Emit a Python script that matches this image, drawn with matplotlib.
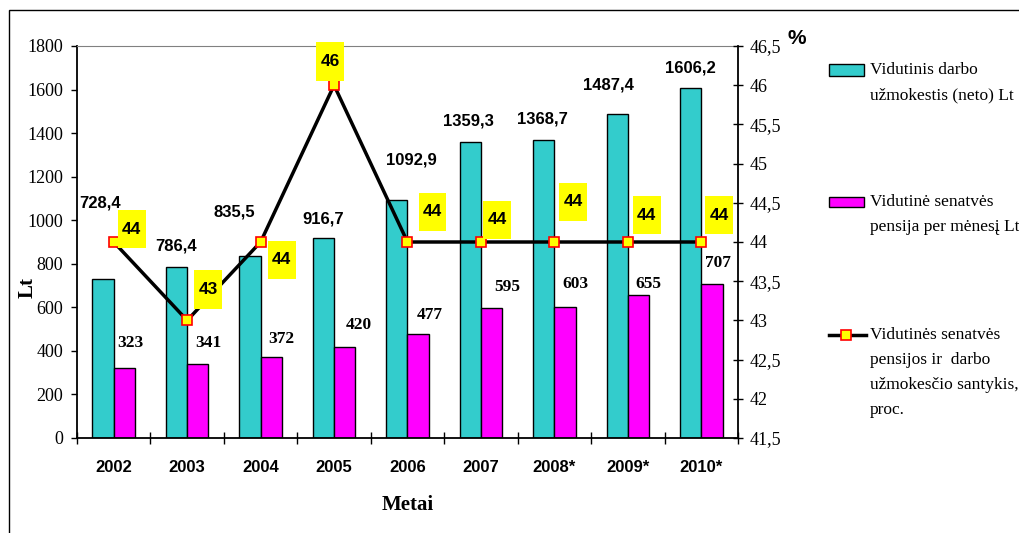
import numpy as np
import matplotlib.pyplot as plt
from matplotlib.patches import Rectangle
from matplotlib.lines import Line2D
from matplotlib.path import Path
from matplotlib.ticker import FuncFormatter

years = ["2002", "2003", "2004", "2005", "2006", "2007", "2008*", "2009*", "2010*"]
wage = [728.4, 786.4, 835.5, 916.7, 1092.9, 1359.3, 1368.7, 1487.4, 1606.2]
pension = [323, 341, 372, 420, 477, 595, 603, 655, 707]
ratio = [44, 43, 44, 46, 44, 44, 44, 44, 44]

# label offsets in pixels (dx, dy downward) from the point each label belongs to
wage_off = [(-3, -76), (0, -21), (-16, -44), (0, -19), (15, -40), (-2, -21), (-1, -21), (-9, -29), (0, -20)]
pension_off = [(6, -25), (11, -21), (10, -18), (14, -22), (12, -19), (16, -21), (10, -23), (10, -11), (6, -21)]
ratio_off = [(18, -13), (21, -31), (21, 18), (-4, -24), (25, -30), (16, -22), (19, -40), (19, -27), (18, -27)]

SERIF = "Liberation Serif"
SANS = "Liberation Sans"
CYAN = "#33CCCC"
MAGENTA = "#FF00FF"


def tall_box(x0, y0, width, height, mutation_size):
    px = 0.25 * mutation_size
    py = 0.68 * mutation_size
    x1, y1 = x0 + width + px, y0 + height + py
    x0, y0 = x0 - px, y0 - py
    return Path([(x0, y0), (x1, y0), (x1, y1), (x0, y1), (x0, y0)], closed=True)


fig = plt.figure(figsize=(10.2, 5.33), dpi=100)
ax = fig.add_axes([77 / 1020, 95 / 533, 661 / 1020, 392 / 533])

x = np.arange(len(years))
w = 0.29
ax.bar(x - w / 2, wage, w, color=CYAN, edgecolor="black", linewidth=1)
ax.bar(x + w / 2, pension, w, color=MAGENTA, edgecolor="black", linewidth=1)

ax.set_xlim(-0.5, len(years) - 0.5)
ax.set_ylim(0, 1800)
ax.set_yticks(np.arange(0, 1801, 200))
ax.set_xticks(x)
ax.set_xticklabels(years, fontfamily=SANS, fontweight="bold", fontsize=12)
ax.set_xticks(np.arange(-0.5, len(years), 1), minor=True)
ax.tick_params(axis="x", which="major", length=0, pad=16)
ax.tick_params(axis="x", which="minor", direction="inout", length=8, width=1)
ax.tick_params(axis="y", direction="out", length=4, width=1, pad=6, labelsize=13)
for lb in ax.get_yticklabels():
    lb.set_fontfamily(SERIF)

ax.spines["right"].set_visible(False)
ax.spines["top"].set_color("#808080")
ax.spines["top"].set_linewidth(0.8)
ax.spines["left"].set_linewidth(1.3)
ax.spines["bottom"].set_linewidth(1.3)

ax.set_ylabel("Lt", fontfamily=SERIF, fontweight="bold", fontsize=15, ha="center", va="center")
ax.yaxis.set_label_coords(-0.074, 0.385)
ax.set_xlabel("Metai", fontfamily=SERIF, fontweight="bold", fontsize=15, ha="center", va="center")
ax.xaxis.set_label_coords(0.5, -0.171)

for i, v in enumerate(wage):
    dx, dy = wage_off[i]
    ax.annotate(f"{v:.1f}".replace(".", ","), xy=(i - w / 2, v), xytext=(dx, -dy),
                textcoords="offset pixels", ha="center", va="center",
                fontfamily=SANS, fontweight="bold", fontsize=12)
for i, v in enumerate(pension):
    dx, dy = pension_off[i]
    ax.annotate(str(v), xy=(i + w / 2, v), xytext=(dx, -dy),
                textcoords="offset pixels", ha="center", va="center",
                fontfamily=SERIF, fontweight="bold", fontsize=12.5)

# ratio line on the secondary axis
ax2 = ax.twinx()
ax2.plot(x, ratio, color="black", linewidth=2.5, marker="s", markersize=6.5,
         markerfacecolor="#FFFF00", markeredgecolor="red", markeredgewidth=1.2)
ax2.set_ylim(41.5, 46.5)
ax2.set_yticks(np.arange(41.5, 46.6, 0.5))
ax2.yaxis.set_major_formatter(FuncFormatter(lambda v, p: ("%g" % v).replace(".", ",")))
ax2.tick_params(axis="y", direction="inout", length=7, width=1, pad=5, labelsize=13)
for lb in ax2.get_yticklabels():
    lb.set_fontfamily(SERIF)
for s in ["left", "top", "bottom"]:
    ax2.spines[s].set_visible(False)
ax2.spines["right"].set_linewidth(1.3)

for i, v in enumerate(ratio):
    dx, dy = ratio_off[i]
    ax2.annotate(str(v), xy=(i, v), xytext=(dx, -dy),
                 textcoords="offset pixels", ha="center", va="center",
                 fontfamily=SANS, fontweight="bold", fontsize=12.5,
                 bbox=dict(boxstyle=tall_box, facecolor="#FFFF00", edgecolor="none"))

fig.text(797 / 1020, 1 - 38 / 533, "%", fontfamily=SANS, fontweight="bold",
         fontsize=15, ha="center", va="center")


# legend on the right
def fx(px):
    return px / 1020


def fy(py):
    return 1 - py / 533


fig.patches.append(Rectangle((fx(829), fy(76)), fx(35), 12 / 533, transform=fig.transFigure,
                             facecolor=CYAN, edgecolor="black", linewidth=1))
fig.patches.append(Rectangle((fx(829), fy(207)), fx(35), 10 / 533, transform=fig.transFigure,
                             facecolor=MAGENTA, edgecolor="black", linewidth=1))
fig.lines.append(Line2D([fx(829), fx(866)], [fy(335), fy(335)], transform=fig.transFigure,
                        color="black", linewidth=2.5))
fig.lines.append(Line2D([fx(846)], [fy(335)], transform=fig.transFigure, marker="s",
                        markersize=6.5, markerfacecolor="#FFFF00", markeredgecolor="red",
                        markeredgewidth=1.2))

legend_lines = [
    ("Vidutinis darbo", 70), ("užmokestis (neto) Lt", 95),
    ("Vidutinė senatvės", 202), ("pensija per mėnesį Lt", 227),
    ("Vidutinės senatvės", 335), ("pensijos ir  darbo", 360),
    ("užmokesčio santykis,", 385), ("proc.", 410),
]
for txt, py in legend_lines:
    fig.text(fx(870), fy(py), txt, fontfamily=SERIF, fontsize=12.5, ha="left", va="center")

# outer frame
fig.patches.append(Rectangle((fx(9), -0.1), 1.2, fy(10) + 0.1, transform=fig.transFigure,
                             facecolor="none", edgecolor="black", linewidth=1, clip_on=False))

fig.savefig("out.png", dpi=100)
